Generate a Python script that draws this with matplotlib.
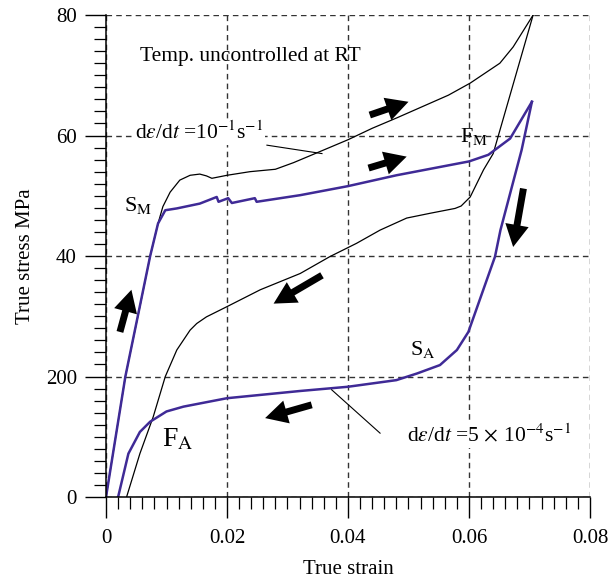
import matplotlib
matplotlib.use("Agg")
import matplotlib.pyplot as plt
from matplotlib.ticker import MultipleLocator, FixedLocator, FixedFormatter

plt.rcParams['font.family'] = ['Liberation Serif', 'DejaVu Serif']
plt.rcParams['mathtext.fontset'] = 'stix'

# fast rate (black), loading then unloading
fast_load_strain = [0, 0.0032, 0.0056, 0.0073, 0.0086, 0.0094, 0.0106, 0.0122, 0.0139, 0.0155,
                    0.0166, 0.0175, 0.0200, 0.0238, 0.0280, 0.0310, 0.0348, 0.0400, 0.0440,
                    0.0480, 0.0566, 0.0602, 0.0651, 0.0673, 0.0706]
fast_load_stress = [0, 20.0, 31.6, 40.0, 45.4, 48.2, 50.6, 52.6, 53.4, 53.6,
                    53.3, 52.9, 53.4, 54.0, 54.4, 55.5, 57.1, 59.3, 61.2,
                    62.9, 66.7, 68.7, 72.0, 74.7, 80.0]
fast_unload_strain = [0.0706, 0.0640, 0.0624, 0.0602, 0.0587, 0.0577, 0.0536, 0.0497, 0.0453,
                      0.0414, 0.0370, 0.0321, 0.0255, 0.0200, 0.0166, 0.0150, 0.0139, 0.0117,
                      0.0098, 0.0078, 0.0056, 0.0034]
fast_unload_stress = [80.0, 57.0, 54.3, 49.8, 48.3, 47.9, 47.1, 46.3, 44.3,
                      42.1, 39.9, 37.1, 34.4, 31.6, 29.9, 28.8, 27.7, 24.4,
                      20.0, 13.3, 7.2, 0]

# slow rate (blue), loading then unloading
slow_load_strain = [0, 0.0032, 0.0073, 0.0086, 0.0098, 0.0117, 0.0155, 0.0183, 0.0186, 0.0202,
                    0.0208, 0.0246, 0.0249, 0.0321, 0.0400, 0.0480, 0.0600, 0.0632, 0.0668, 0.0704]
slow_load_stress = [0, 20.0, 40.0, 45.4, 47.6, 47.9, 48.7, 49.8, 49.0, 49.6,
                    48.8, 49.6, 49.0, 50.1, 51.6, 53.4, 55.7, 56.8, 59.5, 65.6]
slow_unload_strain = [0.0704, 0.0687, 0.0652, 0.0643, 0.0599, 0.0580, 0.0552, 0.0514, 0.0480,
                      0.0400, 0.0321, 0.0200, 0.0128, 0.0100, 0.0073, 0.0056, 0.0037, 0.0020]
slow_unload_stress = [65.6, 57.6, 44.3, 39.9, 27.4, 24.4, 21.9, 20.5, 19.4,
                      18.3, 17.6, 16.4, 15.0, 14.2, 12.5, 10.8, 7.2, 0]

ytick_vals = [0, 20, 40, 60, 80]
ytick_labels = ['0', '200', '40', '60', '80']
xtick_vals = [0, 0.02, 0.04, 0.06, 0.08]
xtick_labels = ['0', '0.02', '0.04', '0.06', '0.08']

# arrows: (tail, tip)
arrows = [((0.0436, 63.4), (0.0500, 65.6)),
          ((0.0434, 54.6), (0.0497, 56.5)),
          ((0.0357, 36.8), (0.0277, 32.1)),
          ((0.0690, 51.2), (0.0673, 41.5)),
          ((0.0340, 15.3), (0.0263, 13.1)),
          ((0.0023, 27.4), (0.0042, 34.4))]

fig = plt.figure(figsize=(6.11, 5.87), dpi=100)
ax = fig.add_axes([0.1735, 0.1533, 0.7921, 0.8211])

blue = '#3f2a96'
ax.plot(fast_load_strain, fast_load_stress, color='black', lw=0.9)
ax.plot(fast_unload_strain, fast_unload_stress, color='black', lw=0.9)
ax.plot(slow_load_strain, slow_load_stress, color=blue, lw=1.8)
ax.plot(slow_unload_strain, slow_unload_stress, color=blue, lw=1.8)

for tail, tip in arrows:
    ax.annotate('', xy=tip, xytext=tail,
                arrowprops=dict(arrowstyle='simple,head_length=1.6,head_width=1.7,tail_width=0.5',
                                mutation_scale=10, color='black', shrinkA=0, shrinkB=0, lw=0))

ax.set_xlim(0, 0.08)
ax.set_ylim(0, 80)
ax.xaxis.set_major_locator(FixedLocator(xtick_vals))
ax.xaxis.set_major_formatter(FixedFormatter(xtick_labels))
ax.yaxis.set_major_locator(FixedLocator(ytick_vals))
ax.yaxis.set_major_formatter(FixedFormatter(ytick_labels))
ax.xaxis.set_minor_locator(MultipleLocator(0.002))
ax.yaxis.set_minor_locator(MultipleLocator(2))
ax.tick_params(which='major', direction='out', length=15, width=1, labelsize=15, pad=6)
ax.tick_params(axis='x', which='major', pad=8)
ax.tick_params(which='minor', direction='out', length=8.5, width=0.9)
for s in ['top', 'right']:
    ax.spines[s].set_visible(False)
for s in ['left', 'bottom']:
    ax.spines[s].set_linewidth(1.1)
ax.grid(True, which='major', linestyle=(0, (4, 3)), color='#333333', lw=1)

ax.set_xlabel('True strain', fontsize=15, labelpad=9)
ax.set_ylabel('True stress MPa', fontsize=15, labelpad=8)

white = dict(facecolor='white', edgecolor='none', pad=1)
ax.text(0.0057, 72.3, 'Temp. uncontrolled at RT', fontsize=15.5, va='baseline')
ax.plot([0.0266, 0.0357], [58.4, 57.0], color='black', lw=0.8)
ax.text(0.0048, 59.4, r'd$\varepsilon$/d$t$ =10$^{-1}$s$^{-1}$', fontsize=15.5,
        va='baseline', bbox=white)
ax.plot([0.0373, 0.0453], [17.8, 10.6], color='black', lw=0.8)
ax.text(0.0497, 9.2, r'd$\varepsilon$/d$t$ =5$\,\times\,$10$^{-4}$s$^{-1}$', fontsize=15.5,
        va='baseline', bbox=white)

ax.text(0.0030, 47.5, r'S$_{\rm M}$', fontsize=16, va='baseline')
ax.text(0.0585, 59.0, r'F$_{\rm M}$', fontsize=16, va='baseline')
ax.text(0.0502, 23.5, r'S$_{\rm A}$', fontsize=16, va='baseline')
ax.text(0.0092, 8.4, r'F$_{\rm A}$', fontsize=20, va='baseline')

fig.savefig('out.png', dpi=100)
